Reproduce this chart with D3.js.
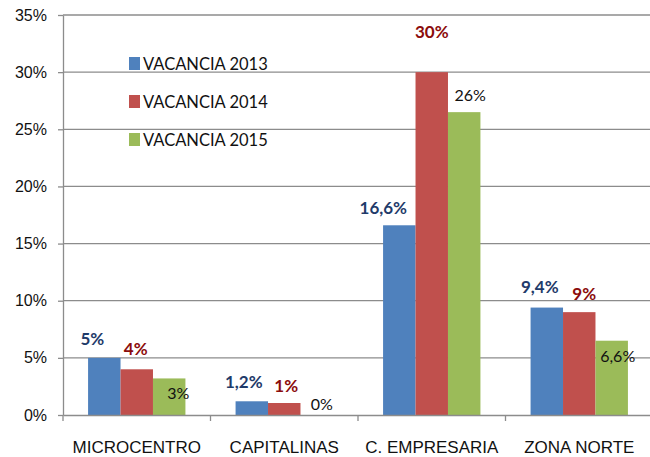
<!DOCTYPE html>
<html>
<head>
<meta charset="utf-8">
<script src="https://cdn.jsdelivr.net/npm/d3@7"></script>
<style>
  body { margin: 0; background: #fff; }
  svg { display: block; font-family: Lato, "Open Sans", sans-serif; }
  .grid line { stroke: #8c8c8c; stroke-width: 1.3; }
  .axis path, .axis line { stroke: #8c8c8c; stroke-width: 1.3; }
</style>
</head>
<body>
<svg width="650" height="457"></svg>
<script>
// data
var categories = ["MICROCENTRO", "CAPITALINAS", "C. EMPRESARIA", "ZONA NORTE"];
var series = ["VACANCIA 2013", "VACANCIA 2014", "VACANCIA 2015"];
var v2013 = [5.0, 1.2, 16.6, 9.4];
var v2014 = [4.0, 1.05, 30.0, 9.0];
var v2015 = [3.2, 0, 26.5, 6.5];
var labels2013 = ["5%", "1,2%", "16,6%", "9,4%"];
var labels2014 = ["4%", "1%", "30%", "9%"];
var labels2015 = ["3%", "0%", "26%", "6,6%"];
var yTicks = [0, 5, 10, 15, 20, 25, 30, 35];

var colors = ["#4f81bd", "#c0504d", "#9bbb59"];
var labelColors = ["#1f3b6a", "#8b0c0c", "#111"];
var labelBold = [true, true, false];
// manual label nudges [dx, dy] from bar top centre (like the hand-placed excel labels)
var nudges = [
  [[-12, -13], [-8, -13], [-16, -11], [-7, -15]],
  [[-1, -14], [2, -11], [0, -34], [5, -12]],
  [[9, 21], [5, -5], [6, -11], [6, 21]]
];

var svg = d3.select("svg"),
    margin = {top: 15, right: -3, bottom: 42, left: 63},
    width = +svg.attr("width") - margin.left - margin.right,
    height = +svg.attr("height") - margin.top - margin.bottom;

var values = [v2013, v2014, v2015];
var labelTexts = [labels2013, labels2014, labels2015];

var x0 = d3.scaleBand().domain(categories).range([0, width]).padding(0);
var x1 = d3.scaleBand().domain(d3.range(series.length))
    .range([x0.bandwidth() * 0.17, x0.bandwidth() * 0.83]).padding(0);
var y = d3.scaleLinear().domain([0, 35]).range([height, 0]);

var g = svg.append("g")
    .attr("transform", "translate(" + margin.left + "," + margin.top + ")");

// gridlines
g.append("g")
    .attr("class", "grid")
  .selectAll("line")
  .data(yTicks.slice(1))
  .enter().append("line")
    .attr("x1", 0)
    .attr("x2", width)
    .attr("y1", function(d) { return y(d); })
    .attr("y2", function(d) { return y(d); });

// y axis
var yAxis = g.append("g")
    .attr("class", "axis axis--y")
    .call(d3.axisLeft(y).tickValues(yTicks).tickSize(5).tickSizeOuter(0)
      .tickFormat(function(d) { return d + "%"; }));
yAxis.selectAll("text")
    .attr("x", -16)
    .attr("fill", "#111")
    .style("font-size", "16px");

// bars
var groups = g.selectAll(".cat")
  .data(categories)
  .enter().append("g")
    .attr("class", "cat")
    .attr("transform", function(d) { return "translate(" + x0(d) + ",0)"; });

series.forEach(function(s, si) {
  groups.append("rect")
      .attr("x", x1(si))
      .attr("y", function(d, ci) { return y(values[si][ci]); })
      .attr("width", x1.bandwidth())
      .attr("height", function(d, ci) { return height - y(values[si][ci]); })
      .attr("fill", colors[si]);
});

// data labels
series.forEach(function(s, si) {
  groups.append("text")
      .attr("x", function(d, ci) { return x1(si) + x1.bandwidth() / 2 + nudges[si][ci][0]; })
      .attr("y", function(d, ci) { return y(values[si][ci]) + nudges[si][ci][1]; })
      .attr("text-anchor", "middle")
      .attr("fill", labelColors[si])
      .style("font-size", labelBold[si] ? "17px" : "16px")
      .style("font-weight", labelBold[si] ? "bold" : "normal")
      .text(function(d, ci) { return labelTexts[si][ci]; });
});

// x axis
var xAxis = g.append("g")
    .attr("class", "axis axis--x")
    .attr("transform", "translate(0," + height + ")")
    .call(d3.axisBottom(x0).tickSize(0).tickSizeOuter(0));
xAxis.selectAll("text")
    .attr("y", 26)
    .attr("fill", "#111")
    .style("font-size", "17px");
xAxis.selectAll(".sep")
  .data(d3.range(categories.length + 1))
  .enter().append("line")
    .attr("class", "sep")
    .attr("x1", function(i) { return i * x0.step(); })
    .attr("x2", function(i) { return i * x0.step(); })
    .attr("y1", 0)
    .attr("y2", 6);

// legend
var legend = g.append("g")
    .attr("transform", "translate(66,49)");
var items = legend.selectAll(".item")
  .data(series)
  .enter().append("g")
    .attr("class", "item")
    .attr("transform", function(d, i) { return "translate(0," + (i * 38) + ")"; });
items.append("rect")
    .attr("y", -7)
    .attr("width", 11)
    .attr("height", 13)
    .attr("fill", function(d, i) { return colors[i]; });
items.append("text")
    .attr("x", 14)
    .attr("dy", "0.35em")
    .attr("fill", "#111")
    .style("font-size", "16.5px")
    .text(function(d) { return d; });
</script>
</body>
</html>
